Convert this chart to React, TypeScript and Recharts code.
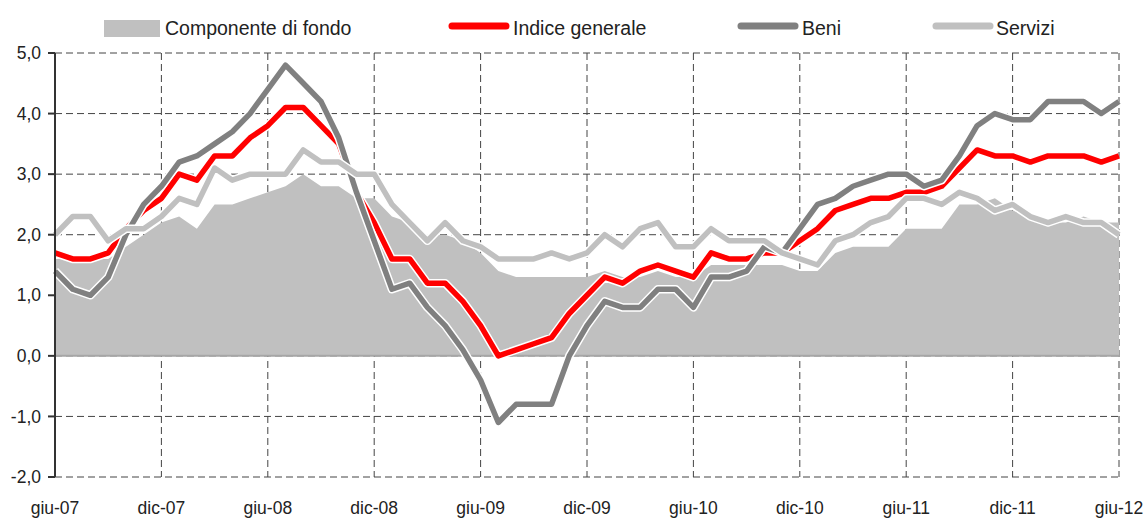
import { ComposedChart, Area, Line, XAxis, YAxis, CartesianGrid, ReferenceLine } from 'recharts';

// etichette dell'asse x (una ogni 6 mesi, da giugno 2007 a giugno 2012)
const tickLabels = ['giu-07', 'dic-07', 'giu-08', 'dic-08', 'giu-09', 'dic-09', 'giu-10', 'dic-10', 'giu-11', 'dic-11', 'giu-12'];

// variazioni percentuali sui 12 mesi, dati mensili giu-07 ... giu-12
const fondo = [
  1.6, 1.6, 1.6, 1.6, 1.8, 2.0, 2.2, 2.3, 2.1, 2.5, 2.5, 2.6, 2.7, 2.8, 3.0, 2.8, 2.8, 2.6, 2.6, 2.3,
  2.2, 2.0, 2.0, 1.9, 1.7, 1.4, 1.3, 1.3, 1.3, 1.3, 1.3, 1.4, 1.3, 1.3, 1.4, 1.3, 1.3, 1.5, 1.5, 1.5,
  1.5, 1.5, 1.4, 1.4, 1.7, 1.8, 1.8, 1.8, 2.1, 2.1, 2.1, 2.5, 2.5, 2.6, 2.4, 2.3, 2.2, 2.2, 2.3, 2.2,
  2.2,
];
const indice = [
  1.7, 1.6, 1.6, 1.7, 2.1, 2.4, 2.6, 3.0, 2.9, 3.3, 3.3, 3.6, 3.8, 4.1, 4.1, 3.8, 3.5, 2.7, 2.2, 1.6,
  1.6, 1.2, 1.2, 0.9, 0.5, 0.0, 0.1, 0.2, 0.3, 0.7, 1.0, 1.3, 1.2, 1.4, 1.5, 1.4, 1.3, 1.7, 1.6, 1.6,
  1.7, 1.7, 1.9, 2.1, 2.4, 2.5, 2.6, 2.6, 2.7, 2.7, 2.8, 3.1, 3.4, 3.3, 3.3, 3.2, 3.3, 3.3, 3.3, 3.2,
  3.3,
];
const beni = [
  1.4, 1.1, 1.0, 1.3, 2.0, 2.5, 2.8, 3.2, 3.3, 3.5, 3.7, 4.0, 4.4, 4.8, 4.5, 4.2, 3.6, 2.7, 1.9, 1.1,
  1.2, 0.8, 0.5, 0.1, -0.4, -1.1, -0.8, -0.8, -0.8, 0.0, 0.5, 0.9, 0.8, 0.8, 1.1, 1.1, 0.8, 1.3, 1.3, 1.4,
  1.8, 1.7, 2.1, 2.5, 2.6, 2.8, 2.9, 3.0, 3.0, 2.8, 2.9, 3.3, 3.8, 4.0, 3.9, 3.9, 4.2, 4.2, 4.2, 4.0,
  4.2,
];
const servizi = [
  2.0, 2.3, 2.3, 1.9, 2.1, 2.1, 2.3, 2.6, 2.5, 3.1, 2.9, 3.0, 3.0, 3.0, 3.4, 3.2, 3.2, 3.0, 3.0, 2.5,
  2.2, 1.9, 2.2, 1.9, 1.8, 1.6, 1.6, 1.6, 1.7, 1.6, 1.7, 2.0, 1.8, 2.1, 2.2, 1.8, 1.8, 2.1, 1.9, 1.9,
  1.9, 1.7, 1.6, 1.5, 1.9, 2.0, 2.2, 2.3, 2.6, 2.6, 2.5, 2.7, 2.6, 2.4, 2.5, 2.3, 2.2, 2.3, 2.2, 2.2,
  2.0,
];

const yTicks = [-2, -1, 0, 1, 2, 3, 4, 5];
const xTicks = tickLabels.map((_, k) => k * 6);

const data = fondo.map((v, i) => ({ i, fondo: v, indice: indice[i], beni: beni[i], servizi: servizi[i] }));

const FONT = '"Liberation Sans", Arial, sans-serif';
const fmt = (v: number) => v.toFixed(1).replace('.', ',');

// legenda disegnata a mano sopra il grafico
const LegendBox = () => (
  <svg width={1146} height={50} style={{ position: 'absolute', left: 0, top: 0 }}>
    <rect x={104} y={20} width={56} height={17} fill="#C0C0C0" />
    <text x={165} y={35} fontSize={19.5} fill="#222" fontFamily={FONT}>Componente di fondo</text>
    <line x1={452} y1={26} x2={506} y2={26} stroke="#FF0000" strokeWidth={7} strokeLinecap="round" />
    <text x={513} y={35} fontSize={19.5} fill="#222" fontFamily={FONT}>Indice generale</text>
    <line x1={741} y1={26} x2={795} y2={26} stroke="#808080" strokeWidth={7} strokeLinecap="round" />
    <text x={802} y={35} fontSize={19.5} fill="#222" fontFamily={FONT}>Beni</text>
    <line x1={936} y1={26} x2={990} y2={26} stroke="#C0C0C0" strokeWidth={7} strokeLinecap="round" />
    <text x={996} y={35} fontSize={19.5} fill="#222" fontFamily={FONT}>Servizi</text>
  </svg>
);

const lineProps = { type: 'linear' as const, dot: false, activeDot: false, strokeLinejoin: 'round' as const, isAnimationActive: false };

export default function App() {
  return (
    <div style={{ position: 'absolute', left: 0, top: 0, width: 1146, height: 520, background: '#fff', fontFamily: FONT }}>
      <ComposedChart width={1146} height={520} data={data} margin={{ top: 53, right: 27, left: 0, bottom: 0 }}>
        <CartesianGrid stroke="#444" strokeDasharray="7 4" strokeWidth={1} />
        <XAxis
          type="number"
          dataKey="i"
          domain={[0, 60]}
          ticks={xTicks}
          interval={0}
          tickFormatter={(v: number) => tickLabels[Math.round(v / 6)]}
          axisLine={false}
          tickLine={false}
          tickSize={0}
          tickMargin={25}
          height={43}
          tick={{ fontSize: 17.5, fill: '#222', fontFamily: FONT }}
        />
        <YAxis
          type="number"
          domain={[-2, 5]}
          ticks={yTicks}
          interval={0}
          allowDataOverflow
          tickFormatter={fmt}
          width={55}
          axisLine={{ stroke: '#333', strokeWidth: 2 }}
          tickLine={{ stroke: '#333', strokeWidth: 2 }}
          tickSize={7}
          tickMargin={7}
          tick={{ fontSize: 17.5, fill: '#222', fontFamily: FONT }}
        />
        <Area type="linear" dataKey="fondo" baseValue={0} fill="#C0C0C0" fillOpacity={1} stroke="none" isAnimationActive={false} />
        <ReferenceLine y={0} stroke="#A6A6A6" strokeWidth={2} />
        <Line {...lineProps} dataKey="indice" stroke="#fff" strokeWidth={8.5} />
        <Line {...lineProps} dataKey="indice" stroke="#FF0000" strokeWidth={5.5} />
        <Line {...lineProps} dataKey="beni" stroke="#fff" strokeWidth={8.5} />
        <Line {...lineProps} dataKey="beni" stroke="#808080" strokeWidth={5.5} />
        <Line {...lineProps} dataKey="servizi" stroke="#fff" strokeWidth={8.5} />
        <Line {...lineProps} dataKey="servizi" stroke="#C0C0C0" strokeWidth={5.5} />
      </ComposedChart>
      <LegendBox />
    </div>
  );
}
